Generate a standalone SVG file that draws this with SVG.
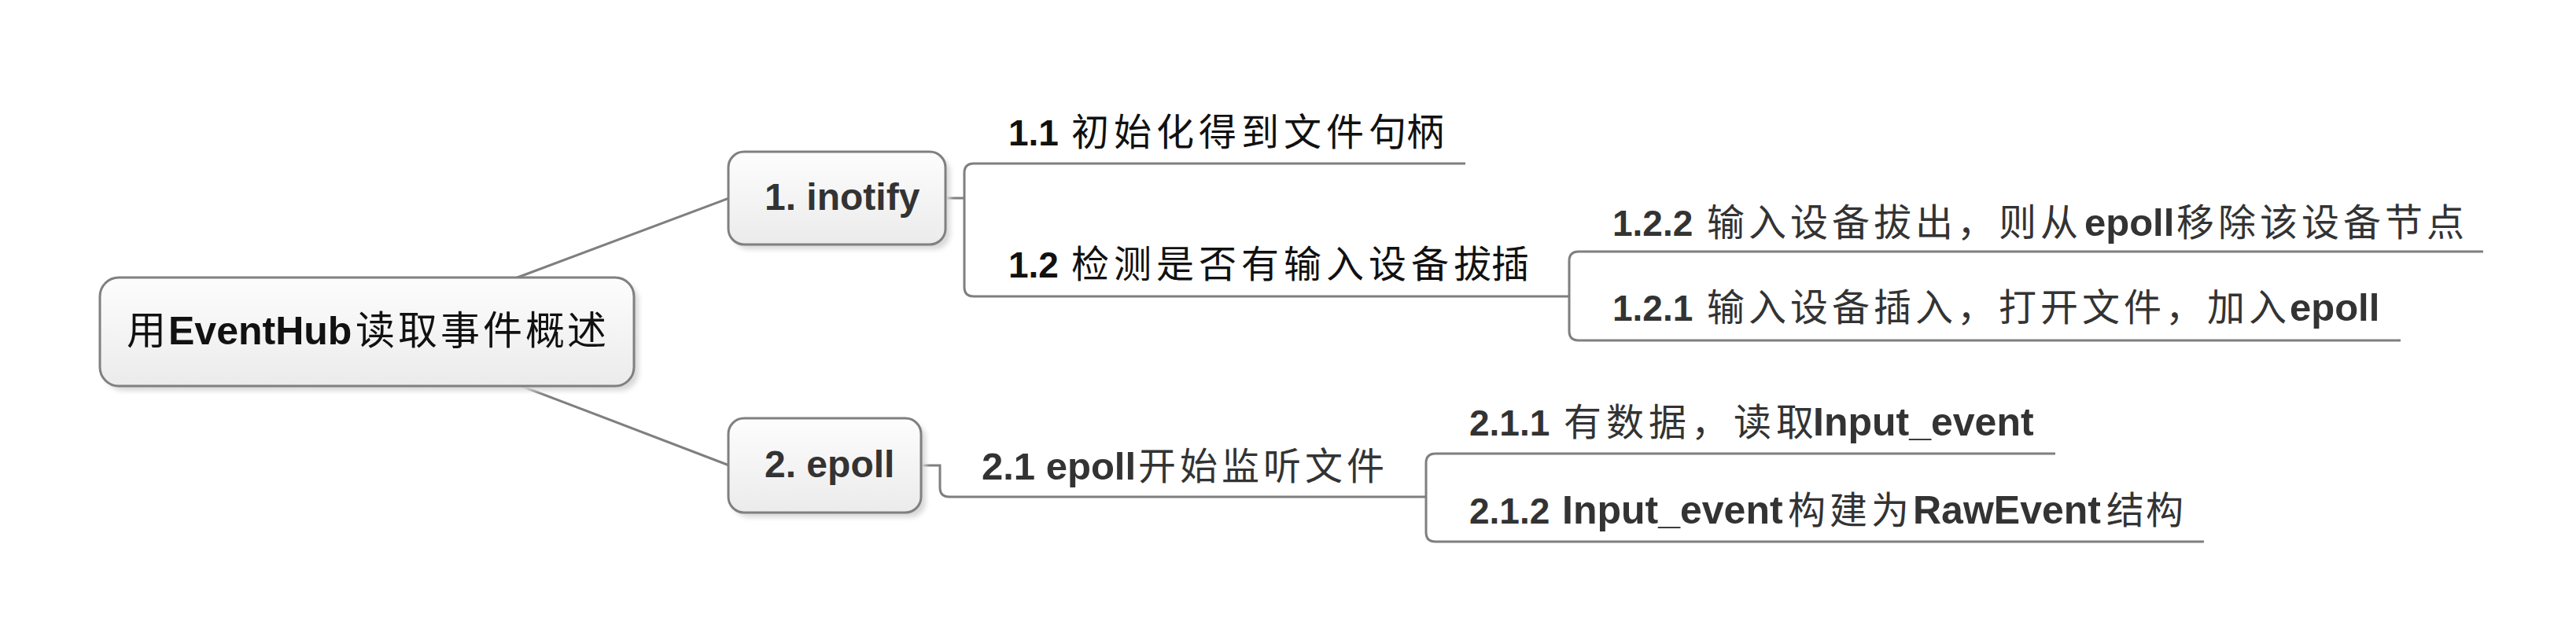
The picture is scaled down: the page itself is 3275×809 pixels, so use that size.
<svg xmlns="http://www.w3.org/2000/svg" width="3275" height="809" viewBox="0 0 3275 809">
  <defs>
    <linearGradient id="boxGrad" x1="0" y1="0" x2="0" y2="1">
      <stop offset="0" stop-color="#fdfdfd"/>
      <stop offset="1" stop-color="#ebebeb"/>
    </linearGradient>
    <filter id="shadow" x="-10%" y="-10%" width="130%" height="140%">
      <feGaussianBlur stdDeviation="3"/>
    </filter>
  </defs>
  <style>
    .box { fill: url(#boxGrad); stroke: #808080; stroke-width: 3; }
    .shd { fill: #d8d8d8; filter: url(#shadow); }
    .conn { fill: none; stroke: #7f7f7f; stroke-width: 3; }
    .t { font-family: "Noto Sans CJK SC", "Liberation Sans", sans-serif; font-size: 48px; }
    .b { font-family: "Liberation Sans", "Noto Sans CJK SC", sans-serif; font-weight: bold; }
    .n { font-size: 46px; }
    .w { font-size: 49px; }
    .dark { fill: #333333; }
    .black { fill: #111111; }
  </style>
  <rect width="3275" height="809" fill="#ffffff"/>

  <g id="connectors">
    <line class="conn" x1="655" y1="354" x2="927" y2="252"/>
    <line class="conn" x1="660" y1="490" x2="927" y2="592"/>
    <path class="conn" d="M1202,252 H1226"/>
    <path class="conn" d="M1863,208 H1238 Q1226,208 1226,220 V365 Q1226,377 1238,377 H1995"/>
    <path class="conn" d="M3157,320 H2007 Q1995,320 1995,332 V421 Q1995,433 2007,433 H3052"/>
    <path class="conn" d="M1171,592 H1195 V620 Q1195,632 1207,632 H1813"/>
    <path class="conn" d="M2613,577 H1825 Q1813,577 1813,589 V677 Q1813,689 1825,689 H2802"/>
  </g>

  <g id="root">
    <rect class="shd" x="133" y="359" width="679" height="138" rx="24"/>
    <rect class="box" x="127" y="353" width="679" height="138" rx="24"/>
    <text class="t black" y="438" style="font-size:50px"><tspan x="161">用</tspan><tspan class="b" x="214">EventHub</tspan><tspan x="452 506 560 614 668 721">读取事件概述</tspan></text>
  </g>

  <g id="n1">
    <rect class="shd" x="932" y="199" width="276" height="118" rx="20"/>
    <rect class="box" x="926" y="193" width="276" height="118" rx="20"/>
    <text class="t b dark" x="972" y="267">1. inotify</text>
  </g>

  <g id="n2">
    <rect class="shd" x="932" y="538" width="245" height="120" rx="20"/>
    <rect class="box" x="926" y="532" width="245" height="120" rx="20"/>
    <text class="t b dark" x="972" y="607">2. epoll</text>
  </g>

  <g id="n1_1">
    <text class="t black" y="185"><tspan class="b n" x="1282">1.1</tspan><tspan x="1362 1416 1470 1524 1578 1632 1686 1740">初始化得到文件句柄</tspan></text>
  </g>

  <g id="n1_2">
    <text class="t black" y="353"><tspan class="b n" x="1282">1.2</tspan><tspan x="1362 1416 1470 1524 1578 1632 1686 1740 1794 1848">检测是否有输入设备拔插</tspan></text>
  </g>

  <g id="n1_2_2">
    <text class="t dark" y="300"><tspan class="b n" x="2050">1.2.2</tspan><tspan x="2170 2223 2276 2329 2382 2435 2488 2541 2594">输入设备拔出，则从</tspan><tspan class="b w" x="2650">epoll</tspan><tspan x="2767 2820 2873 2926 2979 3032 3085">移除该设备节点</tspan></text>
  </g>

  <g id="n1_2_1">
    <text class="t dark" y="408"><tspan class="b n" x="2050">1.2.1</tspan><tspan x="2170 2223 2276 2329 2382 2435 2488 2541 2594 2647 2700 2753 2806 2859">输入设备插入，打开文件，加入</tspan><tspan class="b w" x="2911">epoll</tspan></text>
  </g>

  <g id="n2_1">
    <text class="t dark" y="610"><tspan class="b w" x="1248">2.1 epoll</tspan><tspan x="1447 1500 1553 1606 1659 1712">开始监听文件</tspan></text>
  </g>

  <g id="n2_1_1">
    <text class="t dark" y="554"><tspan class="b n" x="1868">2.1.1</tspan><tspan x="1988 2042 2096 2150 2204 2258">有数据，读取</tspan><tspan class="b" x="2305" style="font-size:50px">Input_event</tspan></text>
  </g>

  <g id="n2_1_2">
    <text class="t dark" y="666"><tspan class="b n" x="1868">2.1.2</tspan><tspan class="b" x="1986" style="font-size:50px">Input_event</tspan><tspan x="2273 2326 2379">构建为</tspan><tspan class="b" x="2432" style="font-size:50px">RawEvent</tspan><tspan x="2678 2728">结构</tspan></text>
  </g>
</svg>
